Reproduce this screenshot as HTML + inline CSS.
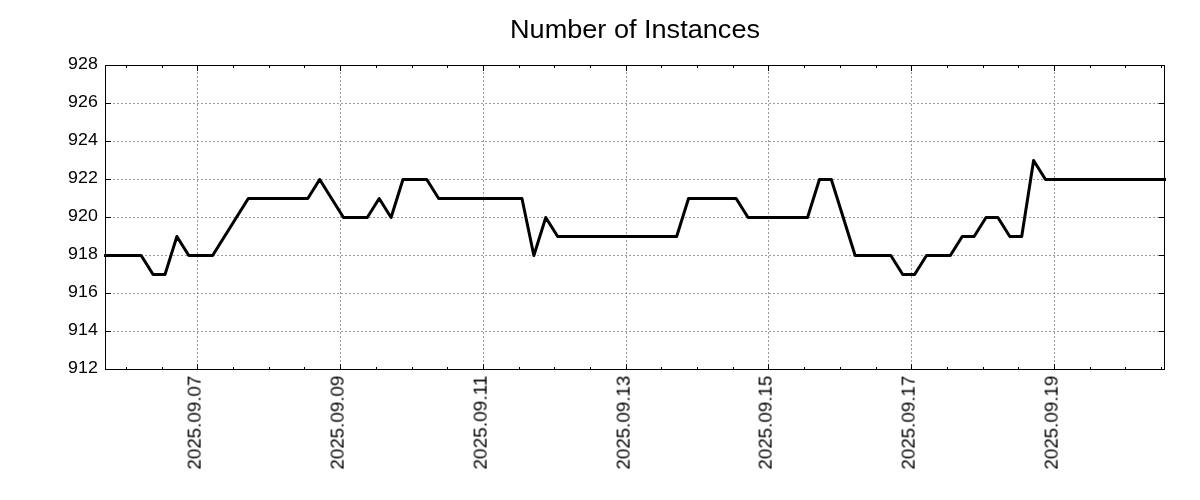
<!DOCTYPE html><html><head><meta charset="utf-8"><style>html,body{margin:0;padding:0;background:#fff;width:1200px;height:500px;overflow:hidden}svg{display:block}text{font-family:"Liberation Sans",sans-serif;fill:#000}.t{opacity:.999}</style></head><body>
<svg width="1200" height="500" viewBox="0 0 1200 500">
<rect width="1200" height="500" fill="#fff"/>
<g stroke="#9a9a9a" stroke-width="1" stroke-dasharray="2,2" stroke-dashoffset="1" shape-rendering="crispEdges"><line x1="105.5" y1="331.5" x2="1164.5" y2="331.5"/><line x1="105.5" y1="293.5" x2="1164.5" y2="293.5"/><line x1="105.5" y1="255.5" x2="1164.5" y2="255.5"/><line x1="105.5" y1="217.5" x2="1164.5" y2="217.5"/><line x1="105.5" y1="179.5" x2="1164.5" y2="179.5"/><line x1="105.5" y1="141.5" x2="1164.5" y2="141.5"/><line x1="105.5" y1="103.5" x2="1164.5" y2="103.5"/></g>
<g stroke="#9a9a9a" stroke-width="1" stroke-dasharray="2,2" shape-rendering="crispEdges"><line x1="197.50" y1="369.5" x2="197.50" y2="65.5"/><line x1="340.50" y1="369.5" x2="340.50" y2="65.5"/><line x1="483.50" y1="369.5" x2="483.50" y2="65.5"/><line x1="626.50" y1="369.5" x2="626.50" y2="65.5"/><line x1="768.50" y1="369.5" x2="768.50" y2="65.5"/><line x1="911.50" y1="369.5" x2="911.50" y2="65.5"/><line x1="1054.50" y1="369.5" x2="1054.50" y2="65.5"/></g>
<svg x="104" y="0" width="1062" height="500" viewBox="104 0 1062 500" overflow="hidden"><polyline points="105.50,255.50 141.20,255.50 153.10,274.50 164.99,274.50 176.89,236.50 188.79,255.50 212.59,255.50 248.29,198.50 307.78,198.50 319.68,179.50 343.48,217.50 367.28,217.50 379.17,198.50 391.07,217.50 402.97,179.50 426.77,179.50 438.67,198.50 521.96,198.50 533.86,255.50 545.76,217.50 557.66,236.50 676.65,236.50 688.54,198.50 736.14,198.50 748.04,217.50 807.53,217.50 819.43,179.50 831.33,179.50 855.13,255.50 890.83,255.50 902.72,274.50 914.62,274.50 926.52,255.50 950.32,255.50 962.22,236.50 974.12,236.50 986.02,217.50 997.92,217.50 1009.81,236.50 1021.71,236.50 1033.61,160.50 1045.51,179.50 1164.50,179.50" fill="none" stroke="#000" stroke-width="3" stroke-linejoin="round" stroke-linecap="square"/></svg>
<rect x="105.5" y="65.5" width="1059.0" height="304.0" fill="none" stroke="#000" stroke-width="1" shape-rendering="crispEdges"/>
<path d="M105.5,369.5h5M1164.5,369.5h-6M105.5,331.5h5M1164.5,331.5h-6M105.5,293.5h5M1164.5,293.5h-6M105.5,255.5h5M1164.5,255.5h-6M105.5,217.5h5M1164.5,217.5h-6M105.5,179.5h5M1164.5,179.5h-6M105.5,141.5h5M1164.5,141.5h-6M105.5,103.5h5M1164.5,103.5h-6M105.5,65.5h5M1164.5,65.5h-6M197.50,369.5v-6M197.50,65.5v5M340.50,369.5v-6M340.50,65.5v5M483.50,369.5v-6M483.50,65.5v5M626.50,369.5v-6M626.50,65.5v5M768.50,369.5v-6M768.50,65.5v5M911.50,369.5v-6M911.50,65.5v5M1054.50,369.5v-6M1054.50,65.5v5M126.50,369.5v-2.5M126.50,65.5v2.5M162.50,369.5v-2.5M162.50,65.5v2.5M233.50,369.5v-2.5M233.50,65.5v2.5M269.50,369.5v-2.5M269.50,65.5v2.5M304.50,369.5v-2.5M304.50,65.5v2.5M376.50,369.5v-2.5M376.50,65.5v2.5M412.50,369.5v-2.5M412.50,65.5v2.5M447.50,369.5v-2.5M447.50,65.5v2.5M519.50,369.5v-2.5M519.50,65.5v2.5M554.50,369.5v-2.5M554.50,65.5v2.5M590.50,369.5v-2.5M590.50,65.5v2.5M661.50,369.5v-2.5M661.50,65.5v2.5M697.50,369.5v-2.5M697.50,65.5v2.5M733.50,369.5v-2.5M733.50,65.5v2.5M804.50,369.5v-2.5M804.50,65.5v2.5M840.50,369.5v-2.5M840.50,65.5v2.5M876.50,369.5v-2.5M876.50,65.5v2.5M947.50,369.5v-2.5M947.50,65.5v2.5M983.50,369.5v-2.5M983.50,65.5v2.5M1018.50,369.5v-2.5M1018.50,65.5v2.5M1090.50,369.5v-2.5M1090.50,65.5v2.5M1125.50,369.5v-2.5M1125.50,65.5v2.5M1161.50,369.5v-2.5M1161.50,65.5v2.5" stroke="#000" stroke-width="1" fill="none" shape-rendering="crispEdges"/>
<g class="t">
<text x="97.8" y="373.1" font-size="17.1" text-anchor="end" textLength="29.7" lengthAdjust="spacingAndGlyphs">912</text>
<text x="97.8" y="335.1" font-size="17.1" text-anchor="end" textLength="29.7" lengthAdjust="spacingAndGlyphs">914</text>
<text x="97.8" y="297.1" font-size="17.1" text-anchor="end" textLength="29.7" lengthAdjust="spacingAndGlyphs">916</text>
<text x="97.8" y="259.1" font-size="17.1" text-anchor="end" textLength="29.7" lengthAdjust="spacingAndGlyphs">918</text>
<text x="97.8" y="221.1" font-size="17.1" text-anchor="end" textLength="29.7" lengthAdjust="spacingAndGlyphs">920</text>
<text x="97.8" y="183.1" font-size="17.1" text-anchor="end" textLength="29.7" lengthAdjust="spacingAndGlyphs">922</text>
<text x="97.8" y="145.1" font-size="17.1" text-anchor="end" textLength="29.7" lengthAdjust="spacingAndGlyphs">924</text>
<text x="97.8" y="107.1" font-size="17.1" text-anchor="end" textLength="29.7" lengthAdjust="spacingAndGlyphs">926</text>
<text x="97.8" y="69.1" font-size="17.1" text-anchor="end" textLength="29.7" lengthAdjust="spacingAndGlyphs">928</text>
<text transform="translate(200.6,375.6) rotate(-90)" font-size="18" text-anchor="end" textLength="94" lengthAdjust="spacingAndGlyphs">2025.09.07</text>
<text transform="translate(343.6,375.6) rotate(-90)" font-size="18" text-anchor="end" textLength="94" lengthAdjust="spacingAndGlyphs">2025.09.09</text>
<text transform="translate(486.6,375.6) rotate(-90)" font-size="18" text-anchor="end" textLength="94" lengthAdjust="spacingAndGlyphs">2025.09.11</text>
<text transform="translate(629.6,375.6) rotate(-90)" font-size="18" text-anchor="end" textLength="94" lengthAdjust="spacingAndGlyphs">2025.09.13</text>
<text transform="translate(771.6,375.6) rotate(-90)" font-size="18" text-anchor="end" textLength="94" lengthAdjust="spacingAndGlyphs">2025.09.15</text>
<text transform="translate(914.6,375.6) rotate(-90)" font-size="18" text-anchor="end" textLength="94" lengthAdjust="spacingAndGlyphs">2025.09.17</text>
<text transform="translate(1057.6,375.6) rotate(-90)" font-size="18" text-anchor="end" textLength="94" lengthAdjust="spacingAndGlyphs">2025.09.19</text>
<text x="635" y="37.8" font-size="25.5" textLength="250" lengthAdjust="spacingAndGlyphs" text-anchor="middle">Number of Instances</text>
</g>
</svg></body></html>
